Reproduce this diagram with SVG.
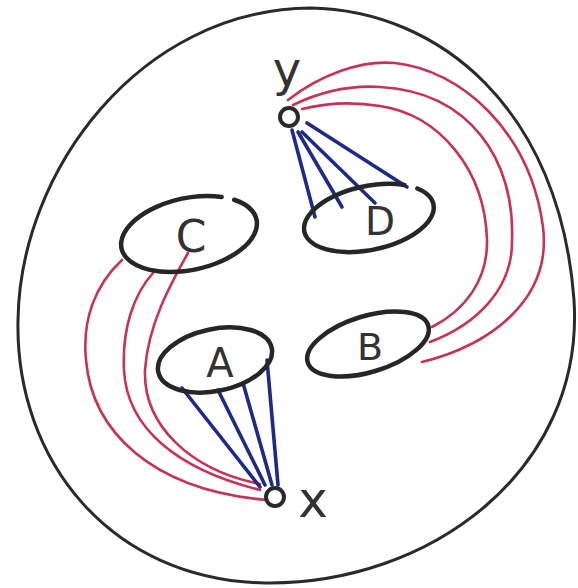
<svg xmlns="http://www.w3.org/2000/svg" width="578" height="588" viewBox="0 0 578 588">
<style>
.bg{fill:#ffffff}
.outer{fill:none;stroke:#2a2a2a;stroke-width:3;stroke-linecap:round}
.set{fill:none;stroke:#262626;stroke-width:4.5;stroke-linecap:round}
.vtx{fill:none;stroke:#2a2a2a;stroke-width:4}
.red{fill:none;stroke:#c53456;stroke-width:2.6;stroke-linecap:round}
.blue{fill:none;stroke:#1e2a86;stroke-width:3.6;stroke-linecap:round}
.lbl{font-family:"DejaVu Sans","Liberation Sans",sans-serif;fill:#333333;text-anchor:middle}
</style>
<rect class="bg" x="0" y="0" width="578" height="588"/>
<g id="universe">
<path class="outer" d="M310,8 C440,10 560,110 574,300 C585,470 430,585 265,583 C110,580 15,460 18,320 C20,170 140,10 310,8 Z"/>
</g>
<g id="connectors">
<path class="red" d="M288,100 C320,75 360,60 395,63 C460,70 530,130 543,227 C552,300 490,345 422,362"/>
<path class="red" d="M293,105 C320,92 350,85 380,87 C470,92 515,160 512,240 C513,290 475,325 430,342"/>
<path class="red" d="M302,109 C330,102 355,102 380,106 C440,115 485,170 487,240 C488,280 465,310 432,327"/>
<path class="red" d="M122,260 C95,285 82,320 86,360 C92,430 150,490 267,500"/>
<path class="red" d="M153,273 C133,295 122,330 124,370 C127,430 180,470 260,490"/>
<path class="red" d="M188,253 C170,285 148,325 145,370 C143,425 190,470 260,484"/>
<line class="blue" x1="292" y1="130" x2="315" y2="217"/>
<line class="blue" x1="298" y1="132" x2="342" y2="207"/>
<line class="blue" x1="302" y1="132" x2="375" y2="203"/>
<line class="blue" x1="307" y1="123" x2="407" y2="187"/>
<line class="blue" x1="182" y1="388" x2="260" y2="487"/>
<line class="blue" x1="218" y1="390" x2="265" y2="485"/>
<line class="blue" x1="243" y1="383" x2="272" y2="485"/>
<line class="blue" x1="267" y1="360" x2="278" y2="485"/>
</g>
<g id="node-y">
<circle class="vtx" cx="289" cy="117" r="9"/>
<text class="lbl" x="287" y="86" font-size="48">y</text>
</g>
<g id="node-x">
<circle class="vtx" cx="275" cy="497" r="9"/>
<text class="lbl" x="313" y="517" font-size="50">x</text>
</g>
<g id="node-C">
<path class="set" transform="translate(189,234) rotate(-12)" d="M51.3,-24.1 A69,36 0 1 1 39.6,-29.5"/>
<text class="lbl" x="191" y="252" font-size="44">C</text>
</g>
<g id="node-D">
<path class="set" transform="translate(369,218) rotate(-12)" d="M53.4,-18.8 A66,32 0 1 1 41.5,-24.9"/>
<text class="lbl" x="380" y="235" font-size="39">D</text>
</g>
<g id="node-A">
<ellipse class="set" cx="215" cy="360" rx="58" ry="31" transform="rotate(-12 215 360)"/>
<text class="lbl" x="220" y="377" font-size="40">A</text>
</g>
<g id="node-B">
<ellipse class="set" cx="368" cy="344" rx="63" ry="28" transform="rotate(-17 368 344)"/>
<text class="lbl" x="370" y="360" font-size="38">B</text>
</g>
</svg>
